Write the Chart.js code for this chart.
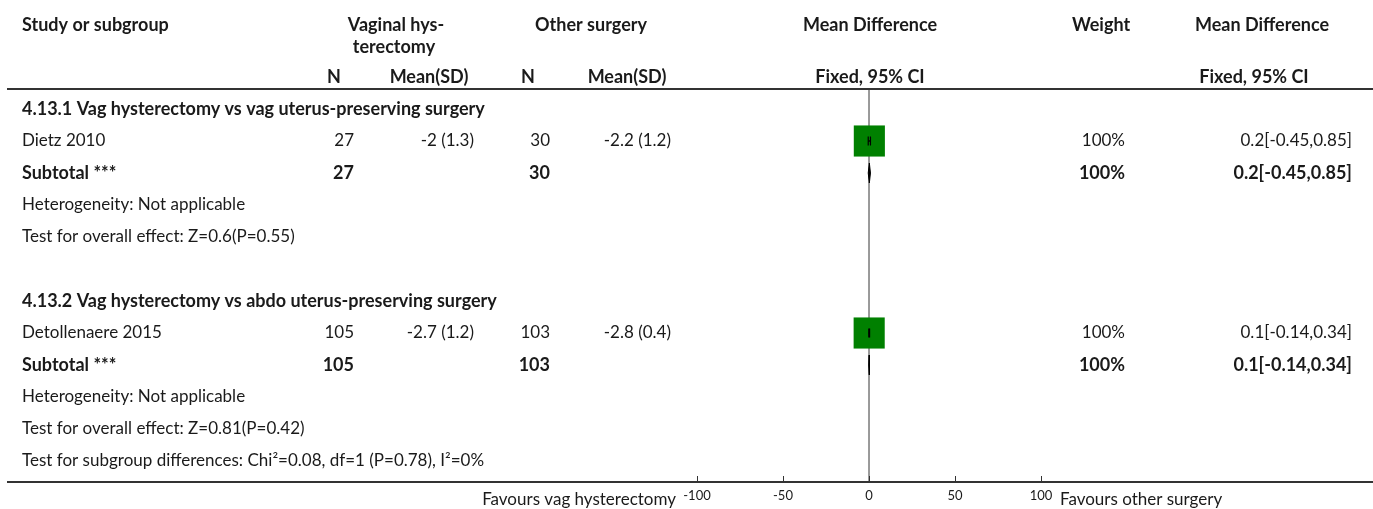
<!DOCTYPE html>
<html><head><meta charset="utf-8">
<script src="https://cdn.jsdelivr.net/npm/chart.js@4.4.1/dist/chart.umd.min.js"></script>
<style>html,body{margin:0;padding:0;background:#fff}#wrap{width:1373px;height:509px;position:relative}</style>
</head><body><div id="wrap"><canvas id="c" width="1373" height="509"></canvas></div>
<script>
// ---- data ----
const groupTitles = ['4.13.1 Vag hysterectomy vs vag uterus-preserving surgery', '4.13.2 Vag hysterectomy vs abdo uterus-preserving surgery'];
const studies = ['Dietz 2010', 'Detollenaere 2015'];
const nVag = [27, 105];
const meanVag = [-2, -2.7];
const sdVag = [1.3, 1.2];
const nOther = [30, 103];
const meanOther = [-2.2, -2.8];
const sdOther = [1.2, 0.4];
const studyMD = [0.2, 0.1];
const studyLow = [-0.45, -0.14];
const studyHigh = [0.85, 0.34];
const studyWeight = [100, 100];
const subN1 = [27, 105];
const subN2 = [30, 103];
const subMD = [0.2, 0.1];
const subLow = [-0.45, -0.14];
const subHigh = [0.85, 0.34];
const subWeight = [100, 100];
const heterogeneity = ['Heterogeneity: Not applicable', 'Heterogeneity: Not applicable'];
const overallTests = ['Test for overall effect: Z=0.6(P=0.55)', 'Test for overall effect: Z=0.81(P=0.42)'];
const subgroupTest = 'Test for subgroup differences: Chi\u00B2=0.08, df=1 (P=0.78), I\u00B2=0%';
const xTicks = [-100, -50, 0, 50, 100];
const favourLeft = 'Favours vag hysterectomy';
const favourRight = 'Favours other surgery';

// row layout (row index per line of the table)
const groupRow = [0, 6], studyRow = [1, 7], subtotalRow = [2, 8], hetRow = [3, 9], testRow = [4, 10], subgroupRow = 11;
const Y_MIN = -0.625, Y_MAX = 11.656;

const FONT = 'Lato, "Open Sans", sans-serif';
const REG = 17, BOLD = 18;
const fmtCI = (m, l, h) => `${m}[${l},${h}]`;

const datasets = [];
// zero line
datasets.push({type: 'line', data: [{x: 0, y: Y_MIN}, {x: 0, y: Y_MAX}], borderColor: '#8c8c8c', borderWidth: 1, pointRadius: 0, order: 5});
// study squares
datasets.push({type: 'scatter', data: studies.map((s, i) => ({x: studyMD[i], y: studyRow[i]})),
  pointStyle: 'rect', pointRadius: studyWeight.map(w => 22 * Math.sqrt(w / 100)), backgroundColor: '#008000', borderWidth: 0, order: 3});
// study CIs
studies.forEach((s, i) => {
  datasets.push({type: 'line', data: [{x: studyLow[i], y: studyRow[i]}, {x: studyHigh[i], y: studyRow[i]}],
    borderColor: '#000', borderWidth: 1.5, pointStyle: 'line', rotation: 90, pointRadius: 4.5, pointBorderWidth: 1.2,
    pointBorderColor: '#000', order: 1});
});
// subtotal diamonds
subMD.forEach((m, i) => {
  const r = subtotalRow[i];
  datasets.push({type: 'line', data: [{x: subLow[i], y: r}, {x: m, y: r - 0.31}, {x: subHigh[i], y: r}, {x: m, y: r + 0.31}, {x: subLow[i], y: r}],
    borderColor: '#000', backgroundColor: '#000', borderWidth: 1, fill: 'shape', pointRadius: 0, tension: 0, order: 1});
});

const tablePlugin = {
  id: 'table',
  afterDraw(chart) {
    const {ctx, scales: {x, y}} = chart;
    const ry = r => y.getPixelForValue(r);
    ctx.save();
    ctx.fillStyle = '#1a1a1a';
    ctx.textBaseline = 'middle';
    const txt = (s, xx, yy, align, bold, size) => {
      ctx.font = `${bold ? 'bold ' : ''}${size || (bold ? BOLD : REG)}px ${FONT}`;
      ctx.textAlign = align || 'left';
      ctx.fillText(s, xx, yy);
    };
    // headers
    txt('Study or subgroup', 22, 25, 'left', true);
    txt('Vaginal hys-', 396, 25, 'center', true);
    txt('terectomy', 394, 47, 'center', true);
    txt('Other surgery', 591, 25, 'center', true);
    txt('Mean Difference', 870, 25, 'center', true);
    txt('Weight', 1101, 25, 'center', true);
    txt('Mean Difference', 1262, 25, 'center', true);
    txt('N', 334, 77, 'center', true);
    txt('Mean(SD)', 429, 77, 'center', true);
    txt('N', 528, 77, 'center', true);
    txt('Mean(SD)', 627, 77, 'center', true);
    txt('Fixed, 95% CI', 870, 77, 'center', true);
    txt('Fixed, 95% CI', 1254, 77, 'center', true);
    // rules
    ctx.fillStyle = '#333';
    ctx.fillRect(7, 88, 1366, 2);
    ctx.fillRect(7, chart.chartArea.bottom - 1, 1366, 2);
    // tick marks (inside)
    xTicks.forEach(v => { const px = Math.round(x.getPixelForValue(v)); ctx.fillRect(px, chart.chartArea.bottom - 6, 1, 6); });
    ctx.fillStyle = '#1a1a1a';
    // body
    groupTitles.forEach((g, i) => {
      txt(g, 22, ry(groupRow[i]), 'left', true);
      txt(studies[i], 22, ry(studyRow[i]), 'left', false);
      txt(String(nVag[i]), 354, ry(studyRow[i]), 'right');
      txt(`${meanVag[i]} (${sdVag[i]})`, 474, ry(studyRow[i]), 'right');
      txt(String(nOther[i]), 550, ry(studyRow[i]), 'right');
      txt(`${meanOther[i]} (${sdOther[i]})`, 671, ry(studyRow[i]), 'right');
      txt(studyWeight[i] + '%', 1125, ry(studyRow[i]), 'right');
      txt(fmtCI(studyMD[i], studyLow[i], studyHigh[i]), 1352, ry(studyRow[i]), 'right');
      txt('Subtotal ***', 22, ry(subtotalRow[i]), 'left', true);
      txt(String(subN1[i]), 354, ry(subtotalRow[i]), 'right', true);
      txt(String(subN2[i]), 550, ry(subtotalRow[i]), 'right', true);
      txt(subWeight[i] + '%', 1125, ry(subtotalRow[i]), 'right', true);
      txt(fmtCI(subMD[i], subLow[i], subHigh[i]), 1352, ry(subtotalRow[i]), 'right', true);
      txt(heterogeneity[i], 22, ry(hetRow[i]), 'left');
      txt(overallTests[i], 22, ry(testRow[i]), 'left');
    });
    txt(subgroupTest, 22, ry(subgroupRow), 'left');
    txt(favourLeft, 676, 500, 'right');
    txt(favourRight, 1060, 500, 'left');
    ctx.restore();
  }
};

new Chart(document.getElementById('c'), {
  type: 'scatter',
  data: {datasets},
  options: {
    responsive: false, animation: false, devicePixelRatio: 1,
    layout: {padding: {left: 697, right: 332, top: 89, bottom: 0}},
    plugins: {legend: {display: false}, tooltip: {enabled: false}},
    scales: {
      x: {type: 'linear', min: -100, max: 100,
        afterBuildTicks: s => { s.ticks = xTicks.map(v => ({value: v})); },
        afterFit: s => { s.height = 27; },
        grid: {display: false, drawTicks: false}, border: {display: false},
        ticks: {padding: 6, color: '#1a1a1a', font: {family: FONT, size: 13}}},
      y: {type: 'linear', min: Y_MIN, max: Y_MAX, reverse: true, display: false}
    }
  },
  plugins: [tablePlugin]
});
</script></body></html>
